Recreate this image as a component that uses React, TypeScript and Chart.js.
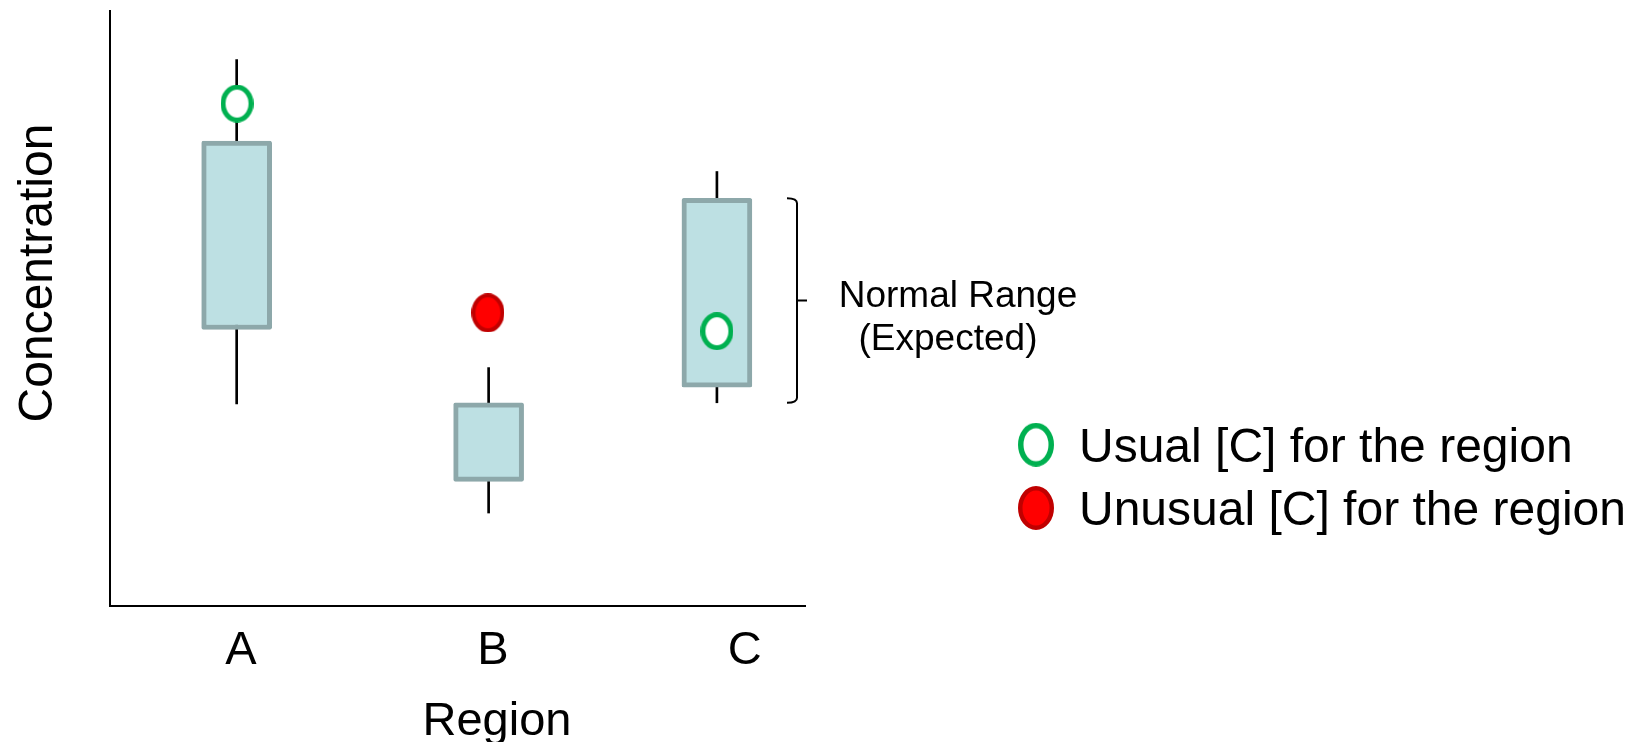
import React, { useEffect, useRef } from 'react';
import { Chart, registerables } from 'chart.js';

Chart.register(...registerables);

// ---- data ----
const CATEGORIES = ['A', 'B', 'C'];
const CATEGORY_X = [18.2, 54.4, 87.2];
const LABEL_X = [18.8, 55.0, 91.2];
const BOX_LOW = [46.4, 20.9, 36.7];
const BOX_HIGH = [78.0, 34.1, 68.4];
const WHISKER_LOW = [33.9, 15.6, 34.1];
const WHISKER_HIGH = [91.7, 40.0, 72.9];
const USUAL_X = [18.25, 87.2];
const USUAL_Y = [84.3, 46.1];
const UNUSUAL_X = [54.3];
const UNUSUAL_Y = [49.2];
const LEGEND_LABELS = ['Usual [C] for the region', 'Unusual [C] for the region'];
const NORMAL_RANGE_LINES = ['Normal Range', '(Expected)'];
const X_TITLE = 'Region';
const Y_TITLE = 'Concentration';
const NORMAL_RANGE_INDEX = 2;

const FONT = '"Liberation Sans", Arial, Helvetica, sans-serif';
const GREEN = '#00B050';
const RED_FILL = '#FF0000';
const RED_EDGE = '#C00000';
const BOX_FILL = '#BDE0E3';
const BOX_EDGE = '#8DA8AA';

function makeEllipse(w: number, h: number, fill: string, stroke: string, lw: number) {
  const c = document.createElement('canvas');
  c.width = w;
  c.height = h;
  const ctx = c.getContext('2d')!;
  ctx.beginPath();
  ctx.ellipse(w / 2, h / 2, w / 2 - lw / 2, h / 2 - lw / 2, 0, 0, Math.PI * 2);
  ctx.fillStyle = fill;
  ctx.fill();
  ctx.lineWidth = lw;
  ctx.strokeStyle = stroke;
  ctx.stroke();
  return c;
}

export default function App() {
  const ref = useRef<HTMLCanvasElement | null>(null);

  useEffect(() => {
    if (!ref.current) return;
    const greenMark = makeEllipse(33, 38, '#FFFFFF', GREEN, 5);
    const redMark = makeEllipse(33, 39, RED_FILL, RED_EDGE, 4);
    const greenLegend = makeEllipse(36, 44, '#FFFFFF', GREEN, 5.5);
    const redLegend = makeEllipse(36, 44, RED_FILL, RED_EDGE, 4.5);

    const overlay = {
      id: 'overlay',
      afterDatasetsDraw(chart: any) {
        const { ctx, chartArea: ca, scales } = chart;
        const xs = scales.x;
        const ys = scales.y;
        ctx.save();
        // axes
        ctx.strokeStyle = '#000';
        ctx.lineWidth = 2;
        ctx.beginPath();
        ctx.moveTo(ca.left, ca.top);
        ctx.lineTo(ca.left, ca.bottom);
        ctx.lineTo(ca.right, ca.bottom);
        ctx.stroke();

        ctx.fillStyle = '#000';
        ctx.textBaseline = 'alphabetic';
        // tick labels
        ctx.font = `47px ${FONT}`;
        ctx.textAlign = 'center';
        CATEGORIES.forEach((c, i) => {
          ctx.fillText(c, xs.getPixelForValue(LABEL_X[i]), ca.bottom + 58);
        });
        // x title
        ctx.fillText(X_TITLE, 497, 735);
        // y title
        ctx.save();
        ctx.font = `48px ${FONT}`;
        ctx.translate(52, 273);
        ctx.rotate(-Math.PI / 2);
        ctx.fillText(Y_TITLE, 0, 0);
        ctx.restore();

        // bracket for normal range
        const top = ys.getPixelForValue(BOX_HIGH[NORMAL_RANGE_INDEX]);
        const bot = ys.getPixelForValue(WHISKER_LOW[NORMAL_RANGE_INDEX]);
        const mid = (top + bot) / 2;
        const bx = 797;
        ctx.lineWidth = 2;
        ctx.beginPath();
        ctx.moveTo(787, top);
        ctx.quadraticCurveTo(bx, top, bx, top + 5);
        ctx.lineTo(bx, bot - 5);
        ctx.quadraticCurveTo(bx, bot, 787, bot);
        ctx.moveTo(bx, mid);
        ctx.lineTo(807, mid);
        ctx.stroke();

        ctx.font = `37px ${FONT}`;
        ctx.fillText(NORMAL_RANGE_LINES[0], 958, 307);
        ctx.fillText(NORMAL_RANGE_LINES[1], 948, 350);

        // legend
        const rows = [
          { img: greenLegend, cy: 444.7 },
          { img: redLegend, cy: 508 },
        ];
        ctx.font = `48px ${FONT}`;
        ctx.textAlign = 'left';
        rows.forEach((r, i) => {
          ctx.drawImage(r.img, 1036 - r.img.width / 2, r.cy - r.img.height / 2);
          ctx.fillText(LEGEND_LABELS[i], 1079, r.cy + 17);
        });
        ctx.restore();
      },
    };

    const chart = new Chart(ref.current, {
      type: 'bar',
      data: {
        datasets: [
          {
            type: 'scatter',
            label: LEGEND_LABELS[0],
            data: USUAL_X.map((x, i) => ({ x, y: USUAL_Y[i] })),
            pointStyle: greenMark as any,
            pointRadius: 17,
            order: 0,
          } as any,
          {
            type: 'scatter',
            label: LEGEND_LABELS[1],
            data: UNUSUAL_X.map((x, i) => ({ x, y: UNUSUAL_Y[i] })),
            pointStyle: redMark as any,
            pointRadius: 17,
            order: 0,
          } as any,
          {
            type: 'bar',
            label: 'box',
            data: CATEGORY_X.map((x, i) => ({ x, y: [BOX_LOW[i], BOX_HIGH[i]] })),
            backgroundColor: BOX_FILL,
            borderColor: BOX_EDGE,
            borderWidth: 5,
            borderSkipped: false,
            borderRadius: 2,
            barThickness: 70,
            grouped: false,
            order: 1,
          } as any,
          {
            type: 'bar',
            label: 'whisker',
            data: CATEGORY_X.map((x, i) => ({ x, y: [WHISKER_LOW[i], WHISKER_HIGH[i]] })),
            backgroundColor: '#000000',
            borderWidth: 0,
            barThickness: 2,
            grouped: false,
            order: 2,
          } as any,
        ],
      },
      options: {
        responsive: false,
        maintainAspectRatio: false,
        animation: false,
        devicePixelRatio: 1,
        events: [],
        layout: { autoPadding: false, padding: { left: 110, top: 10, right: 835, bottom: 136 } },
        plugins: { legend: { display: false }, tooltip: { enabled: false } },
        scales: {
          x: { type: 'linear', min: 0, max: 100, offset: false, display: false },
          y: { type: 'linear', min: 0, max: 100, display: false },
        },
      },
      plugins: [overlay],
    } as any);
    return () => chart.destroy();
  }, []);

  return (
    <div style={{ position: 'absolute', left: 0, top: 0, width: 1641, height: 742, background: '#fff' }}>
      <canvas ref={ref} width={1641} height={742} style={{ display: 'block' }} />
    </div>
  );
}
